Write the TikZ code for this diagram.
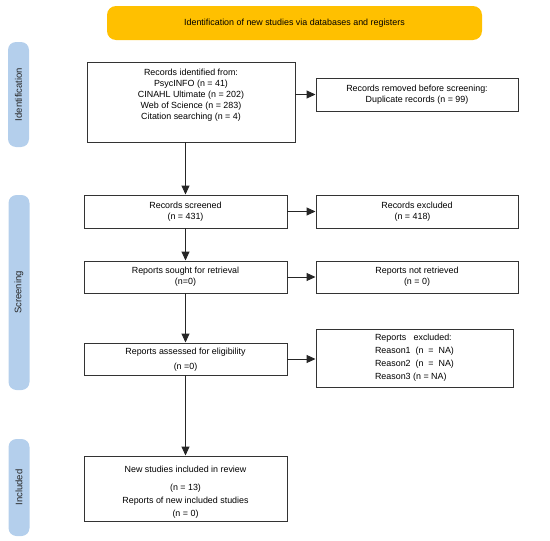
\documentclass[tikz,border=0pt]{standalone}
\usepackage{fontspec}
\setmainfont{Liberation Sans}
\usetikzlibrary{arrows.meta}
\definecolor{bannery}{HTML}{FFC000}
\definecolor{sideblue}{HTML}{B4CFEC}
\begin{document}
\begin{tikzpicture}[x=1pt,y=-1pt,
  box/.style={draw=black!80, line width=0.95pt, minimum width=203pt, inner sep=0pt, font=\fontsize{8.9}{11}\selectfont, align=center},
  rbox/.style={box, minimum width=202pt},
  txt/.style={inner sep=0pt, font=\fontsize{8.9}{11}\selectfont, align=center},
  side/.style={fill=sideblue, rounded corners=8pt, minimum width=21pt, inner sep=0pt},
  sidetxt/.style={rotate=90, inner sep=0pt, font=\fontsize{9.5}{11}\selectfont, text=black!85},
  arr/.style={line width=0.95pt, draw=black!85, -{Triangle[length=9pt,width=8pt]}},
]
\useasboundingbox (0,0) rectangle (550,541);
% banner
\node[fill=bannery, rounded corners=9pt, minimum width=375pt, minimum height=34pt, inner sep=0pt, font=\fontsize{8.9}{11}\selectfont] (banner) at (294.5,23) {Identification of new studies via databases and registers};
% side labels
\node[side, minimum height=105pt] (idlab) at (18.5,94.5) {};
\node[sidetxt] (idtxt) at (idlab.center) {Identification};
\node[side, minimum height=195pt] (scrlab) at (19,292.5) {};
\node[sidetxt] (scrtxt) at (scrlab.center) {Screening};
\node[side, minimum height=97pt] (inclab) at (19,487.5) {};
\node[sidetxt] (inctxt) at (inclab.center) {Included};
% identification
\node[box, minimum width=208pt, minimum height=80pt] (ident) at (191,102) {};
\node[txt] (identtxt) at (191,95) {Records identified from:\\PsycINFO (n = 41)\\CINAHL Ultimate (n = 202)\\Web of Science (n = 283)\\Citation searching (n = 4)};
\node[rbox, minimum height=33pt] (removed) at (417,94.5) {Records removed before screening:\\Duplicate records (n = 99)};
% screening
\node[box, minimum height=33pt] (screened) at (185.5,211.5) {Records screened\\(n = 431)};
\node[rbox, minimum height=33pt] (excluded) at (417,211.5) {Records excluded\\(n = 418)\hspace*{9pt}};
\node[box, minimum height=32pt] (sought) at (185.5,277) {Reports sought for retrieval\\(n=0)};
\node[rbox, minimum height=32pt] (notretr) at (417,277) {Reports not retrieved\\(n = 0)};
\node[box, minimum height=32pt] (assessed) at (185.5,359) {};
\node[txt, font=\fontsize{8.9}{15}\selectfont] (assessedtxt) at (185.5,360) {Reports assessed for eligibility\\(n =0)};
\node[box, minimum width=197pt, minimum height=58pt] (repexcl) at (414.5,358) {};
\node[txt, align=left, font=\fontsize{8.9}{13}\selectfont] (repexcltxt) at (414.5,357.5) {Reports\ \ \ excluded:\\Reason1\ \ (n\ \ =\ \ NA)\\Reason2\ \ (n\ \ =\ \ NA)\\Reason3 (n = NA)};
% included
\node[box, minimum height=65pt] (newst) at (185.5,488.5) {};
\node[txt] (newsttxt1) at (185.5,469) {New studies included in review};
\node[txt, font=\fontsize{8.9}{13}\selectfont] (newsttxt2) at (185.5,501) {(n = 13)\\Reports of new included studies\\(n = 0)};
% connectors
\draw[arr] (ident.east |- removed.west) -- (removed.west);
\draw[arr] (ident.south -| screened.north) -- (screened.north);
\draw[arr] (screened.east) -- (excluded.west);
\draw[arr] (screened.south) -- (sought.north);
\draw[arr] (sought.east) -- (notretr.west);
\draw[arr] (sought.south) -- (assessed.north);
\draw[arr] (assessed.east) -- (assessed.east -| repexcl.west);
\draw[arr] (assessed.south) -- (newst.north);
\end{tikzpicture}
\end{document}
